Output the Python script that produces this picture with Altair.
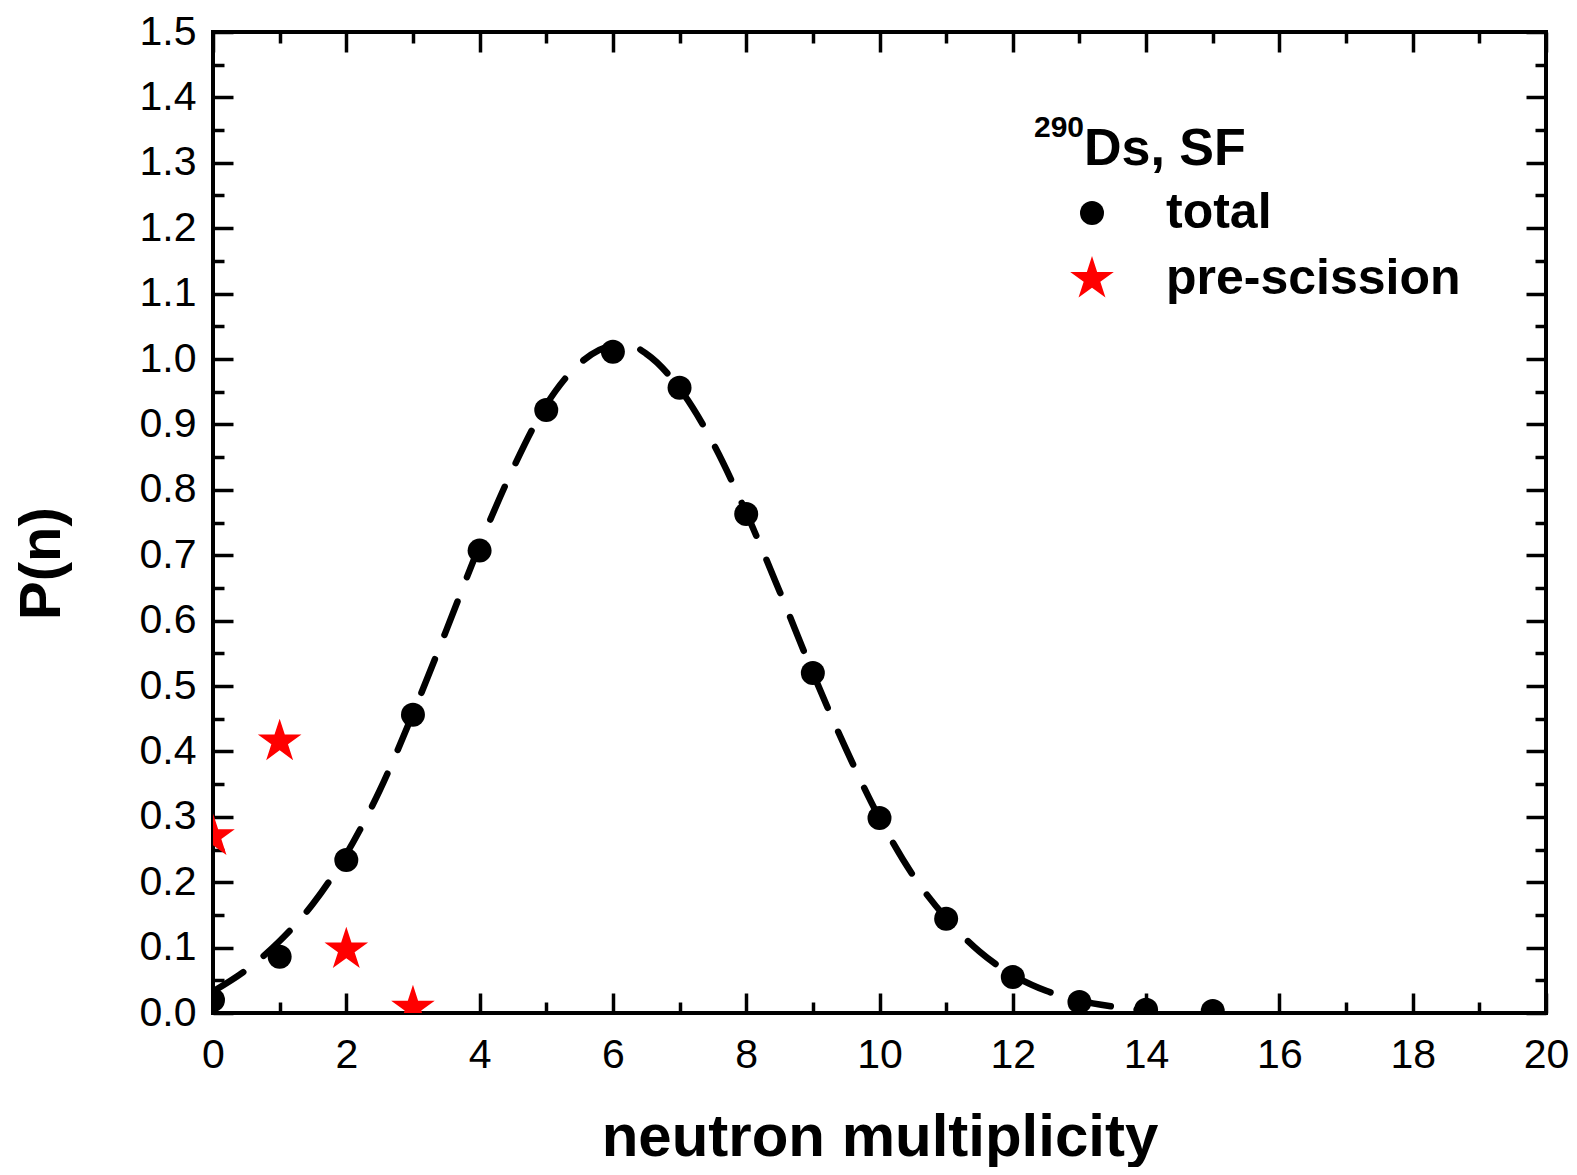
import math
import altair as alt
import pandas as pd

# ---------------- data ----------------
n_total = [0, 1, 2, 3, 4, 5, 6, 7, 8, 9, 10, 11, 12, 13, 14, 15]
p_total = [0.020, 0.086, 0.234, 0.456, 0.707, 0.922, 1.011, 0.956, 0.763,
           0.520, 0.298, 0.144, 0.055, 0.017, 0.005, 0.003]

n_pre = [0, 1, 2, 3]
p_pre = [0.270, 0.415, 0.097, 0.008]

fit_n = [0, 0.5, 1, 1.5, 2, 2.5, 3, 3.5, 4, 4.5, 5, 5.5, 6, 6.25, 6.5, 7, 7.5,
         8, 8.5, 9, 9.5, 10, 10.5, 11, 11.5, 12, 12.5, 13, 13.5, 14]
fit_p = [0.033, 0.066, 0.110, 0.167, 0.243, 0.340, 0.458, 0.585, 0.715, 0.832,
         0.930, 0.993, 1.020, 1.021, 1.008, 0.955, 0.872, 0.765, 0.645, 0.520,
         0.403, 0.298, 0.211, 0.145, 0.094, 0.058, 0.034, 0.019, 0.010, 0.004]

series_names = ["total", "pre-scission"]
x_major = [0, 2, 4, 6, 8, 10, 12, 14, 16, 18, 20]
x_minor = [1, 3, 5, 7, 9, 11, 13, 15, 17, 19]
y_major = [0.0, 0.1, 0.2, 0.3, 0.4, 0.5, 0.6, 0.7, 0.8, 0.9, 1.0, 1.1, 1.2, 1.3, 1.4, 1.5]
y_minor = [0.05, 0.15, 0.25, 0.35, 0.45, 0.55, 0.65, 0.75, 0.85, 0.95, 1.05, 1.15, 1.25, 1.35, 1.45]

title_sup = "290"
title_main = "Ds, SF"
x_title = "neutron multiplicity"
y_title = "P(n)"

# ---------------- layout ----------------
W, H = 1333, 981
LEFT, TOP = 205, 24          # plot origin in page = (8 + LEFT, 8 + TOP)
OX, OY = 8 + LEFT, 8 + TOP
FONT = "Liberation Sans"

# five-point star symbol path (unit radius)
pts = []
for k in range(10):
    ang = math.radians(-90 + 36 * k)
    r = 1.0 if k % 2 == 0 else 0.382
    pts.append(f"{r * math.cos(ang):.4f},{r * math.sin(ang):.4f}")
STAR = "M" + " L".join(pts) + " Z"

fit_df = pd.DataFrame({"n": fit_n, "p": fit_p})
mk_df = pd.concat([
    pd.DataFrame({"n": n_total, "p": p_total, "series": series_names[0]}),
    pd.DataFrame({"n": n_pre, "p": p_pre, "series": series_names[1]}),
], ignore_index=True)

xs = alt.Scale(domain=[0, 20], nice=False, zero=False)
ys = alt.Scale(domain=[0, 1.5], nice=False, zero=False)


def tick_axis(orient, values, size, offset):
    return alt.Axis(orient=orient, values=values, tickSize=size, tickWidth=3.5,
                    tickColor="black", labels=False, domain=False, grid=False,
                    offset=offset)


label_x = alt.Axis(orient="bottom", values=x_major, format="d", ticks=False,
                   domain=False, grid=False, labelFont=FONT, labelFontSize=41,
                   labelColor="black", labelPadding=22, labelFlush=False,
                   titleFont=FONT, titleFontSize=60, titleFontWeight="bold",
                   titleColor="black", titleY=142, titleBaseline="alphabetic")
label_y = alt.Axis(orient="left", values=y_major, format=".1f", ticks=False,
                   domain=False, grid=False, labelFont=FONT, labelFontSize=41,
                   labelColor="black", labelPadding=17, labelFlush=False,
                   titleFont=FONT, titleFontSize=58, titleFontWeight="bold",
                   titleColor="black", titleX=42 - OX, titleY=563 - OY,
                   titleBaseline="middle", titleAngle=270)

fit = alt.Chart(fit_df).mark_line(
    color="black", strokeWidth=6.5, strokeDash=[36, 26], strokeCap="round",
    interpolate="monotone", clip=True
).encode(
    x=alt.X("n:Q", scale=xs, axis=label_x, title=x_title),
    y=alt.Y("p:Q", scale=ys, axis=label_y, title=y_title),
)

leg = alt.Legend(orient="none", legendX=854, legendY=156, title=None,
                 labelFont=FONT, labelFontSize=50, labelFontWeight="bold",
                 labelColor="black", labelOffset=49, labelLimit=800,
                 rowPadding=16, padding=0, symbolStrokeWidth=0)

markers = alt.Chart(mk_df).mark_point(filled=True, opacity=1, strokeWidth=0,
                                       clip=True).encode(
    x=alt.X("n:Q", scale=xs, axis=tick_axis("top", x_major, 20, -H), title=None),
    y=alt.Y("p:Q", scale=ys, axis=tick_axis("right", y_major, 20, -W), title=None),
    shape=alt.Shape("series:N", scale=alt.Scale(domain=series_names, range=["circle", STAR]),
                    legend=leg, title=None),
    color=alt.Color("series:N", scale=alt.Scale(domain=series_names, range=["black", "red"]),
                    legend=leg, title=None),
    size=alt.Size("series:N", scale=alt.Scale(domain=series_names, range=[576, 2100]),
                  legend=leg, title=None),
)


def ghost(xa, ya):
    return alt.Chart(fit_df).mark_point(opacity=0).encode(
        x=alt.X("n:Q", scale=xs, axis=xa, title=None),
        y=alt.Y("p:Q", scale=ys, axis=ya, title=None),
    )


g1 = ghost(tick_axis("top", x_minor, 11, -H), tick_axis("right", y_minor, 11, -W))
g2 = ghost(tick_axis("bottom", x_major, 20, -H), tick_axis("left", y_major, 20, -W))
g3 = ghost(tick_axis("bottom", x_minor, 11, -H), tick_axis("left", y_minor, 11, -W))

sup = alt.Chart(pd.DataFrame({"t": [title_sup]})).mark_text(
    font=FONT, fontSize=30, fontWeight="bold", color="black", align="left",
    baseline="alphabetic"
).encode(text="t:N", x=alt.value(1034 - OX), y=alt.value(137 - OY))

main = alt.Chart(pd.DataFrame({"t": [title_main]})).mark_text(
    font=FONT, fontSize=52, fontWeight="bold", color="black", align="left",
    baseline="alphabetic"
).encode(text="t:N", x=alt.value(1084 - OX), y=alt.value(165 - OY))

chart = alt.layer(fit, markers, g1, g2, g3, sup, main).resolve_axis(
    x="independent", y="independent"
).properties(
    width=W, height=H,
    autosize=alt.AutoSizeParams(type="none"),
    padding={"left": LEFT, "top": TOP, "right": 23, "bottom": 154},
    background="white",
).configure_view(stroke="black", strokeWidth=4)

chart.save("out.html", embed_options={"renderer": "svg", "actions": False})
